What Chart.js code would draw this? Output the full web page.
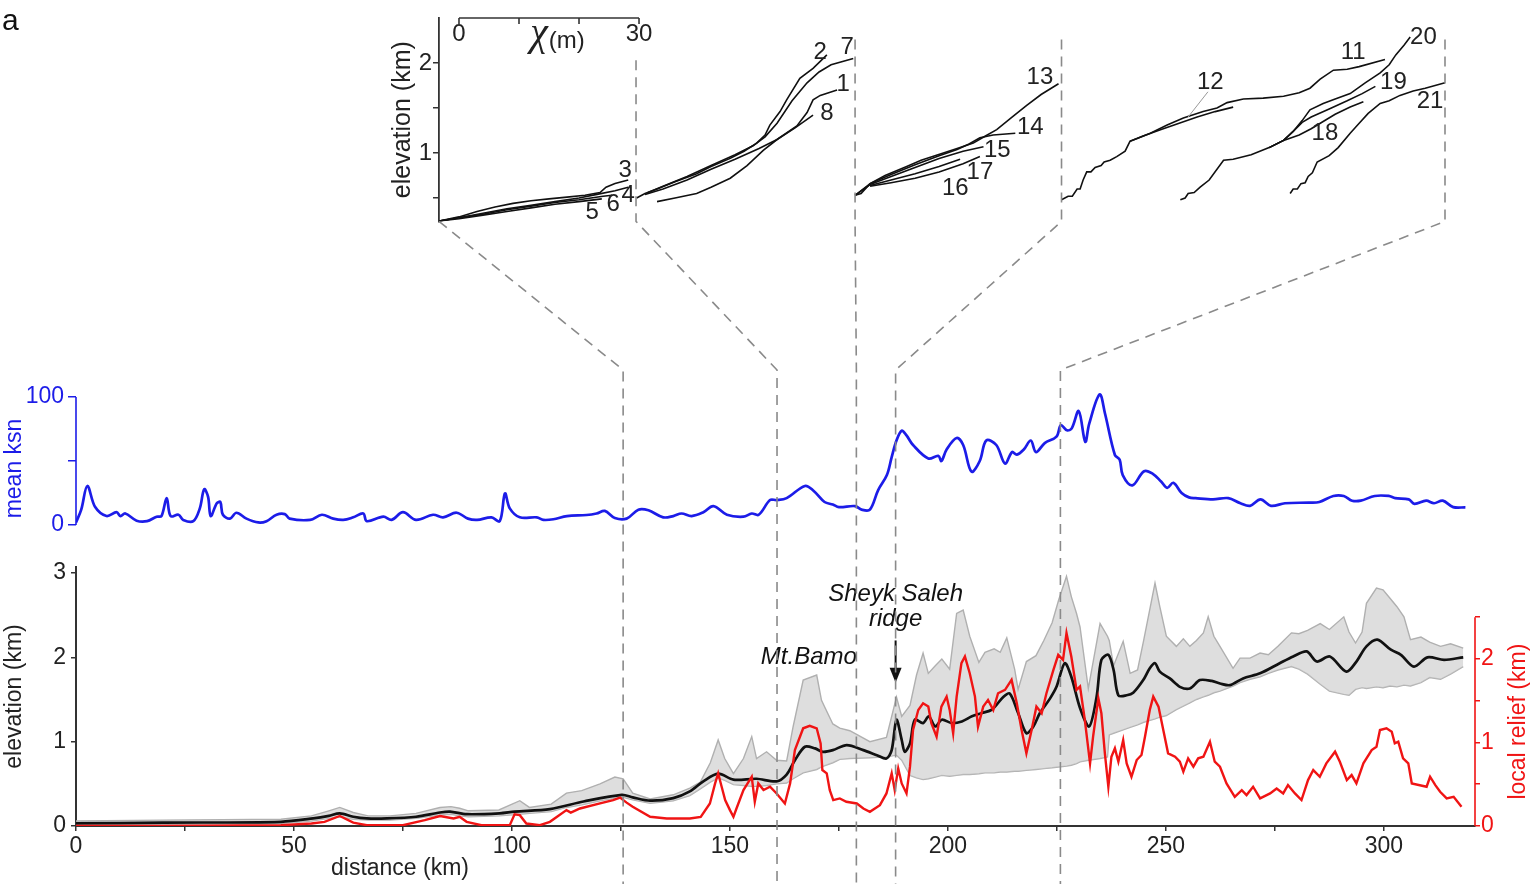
<!DOCTYPE html>
<html><head><meta charset="utf-8">
<script src="https://cdn.jsdelivr.net/npm/chart.js@4.4.1/dist/chart.umd.min.js"></script>
<style>
html,body{margin:0;padding:0;background:#fff;width:1536px;height:884px;overflow:hidden}
#wrap{position:relative;width:1536px;height:884px}
canvas{position:absolute;left:0;top:0}
</style></head><body>
<div id="wrap"><canvas id="main" width="1536" height="884"></canvas><canvas id="inset" width="1536" height="884"></canvas></div>
<script>
// ---------------- DATA ----------------
// mean ksn along the swath
const ksnKm  = [0,1.2,2.6,4.4,7,9.3,10.2,11.3,13.9,16.3,18.5,19.6,20.8,21.7,23.5,24.6,26.9,28.4,29.4,30.3,30.9,32.3,33.1,33.7,35.3,36.8,39.1,41.8,43.7,46,47.9,49,53.7,56.4,59,61.3,63.6,65.9,66.7,70.5,72.4,75,78,81.9,84.2,87.3,89.9,92,95.3,97.2,98.4,99.5,101.8,105.7,107.2,109.5,112.6,117.1,119.4,121.3,123.6,126.3,129,131.3,134.7,137,138.9,141.2,143.9,146.2,149.3,153.1,155,156.6,159.2,160.7,163,167.2,169.1,171.7,173.6,175,178.7,180.2,182.1,184,186,187.1,188.2,189.4,190.5,192,195.5,197.8,198.5,199.7,202,203.5,205.4,207.3,208.8,211.1,213.1,214.7,215.8,217.4,219.0,220.2,222.2,224.9,225.9,227.3,228.4,230.0,231.5,232.4,234.8,236.0,238.3,239.4,240.1,242.3,245.0,247.0,248.9,250.3,251.7,253.6,255.3,256.8,260.8,264.3,267.1,269.3,271.7,274.1,277.3,282.8,285.2,288.4,290.8,292.7,294.7,297.9,301.1,302.6,305.7,307.0,309.7,311.5,313.5,315.9,318.7];
const ksnVal = [2,12,30.5,14,7,10,7,9,3.4,3,6.5,7,21,7,8,4,3,13,28,22,7,17,18,8,5,9.6,5,2,3,8,8.5,5,4,8,5,4,6,9,3,6.5,4,10,4,8,6,9.6,5,4,6,3,24.7,13,6,6,4,4.5,7,7.8,9,11,5.5,5,12,11.5,6,7,9,7,10,14.8,8,6.5,9,8,19.5,19.5,21,30.5,27,18,16,14,14.8,12,12,27.3,39,53,66,73.7,70,62.5,52,54,50,59,68,62.5,41.7,50,66,62.5,48,57,55,59,66,57,64,69,78,74,75.5,89,65,79,102,87.5,54.7,51,39,31,42,40,34,29,33,25,21.6,21,20,21,17,15,20,15,17,17.5,18,22.7,22.7,19,19,22.7,22.7,21,20,16.5,19,17,19,14,13.8];

// mean elevation (km)
const elevKm = [0,20,47,54.4,58,60.5,63.6,66.7,71.3,78,
  83.5,85.8,89.6,97.2,100.6,108.7,116.4,125.2,127.7,131.7,
  137,140.8,143.9,147.3,150.8,156.1,160.7,163,164.9,167.2,
  169.5,171.3,173.6,176.8,180.6,183.7,185.9,187.1,188.2,189.4,
  190.1,191.3,192.4,194.3,195.6,197.1,198.6,200.9,203.2,205.5,
  207.8,210.1,212.7,214.2,216.1,218,219.6,221.1,223.4,224.9,
  226.8,228.3,230.3,232.4,234.1,235.2,236.8,238,239.1,241,
  242.5,244.8,246.3,247.5,248.6,250.9,253.2,255.5,257.8,260.5,
  262.4,264.7,267.7,271.6,276.1,279.2,282.3,284.6,287.6,291.4,
  293.7,296,298.5,301.6,303.9,306.9,310,313.8,318.2];
const elevMean = [0.03,0.04,0.05,0.09,0.12,0.15,0.11,0.09,0.09,0.11,
  0.16,0.17,0.14,0.15,0.17,0.20,0.29,0.37,0.34,0.30,
  0.33,0.41,0.53,0.62,0.55,0.56,0.53,0.61,0.78,0.94,
  0.92,0.88,0.90,0.96,0.90,0.84,0.80,0.90,1.26,1.02,
  0.88,0.98,1.26,1.22,1.30,1.18,1.26,1.22,1.24,1.30,
  1.34,1.38,1.53,1.57,1.34,1.10,1.18,1.34,1.51,1.65,
  1.93,1.77,1.40,1.18,1.53,1.97,2.03,1.85,1.55,1.55,
  1.58,1.73,1.87,1.93,1.83,1.75,1.65,1.63,1.73,1.72,
  1.69,1.67,1.75,1.81,1.93,2.01,2.07,1.95,2.01,1.83,
  1.95,2.13,2.21,2.09,2.03,1.89,2.00,1.97,2.00];

// min / max elevation envelope (km)
const bandKm = [0,20,47,54,58,60.5,63.6,67,72,78,
  83.5,86,88,90,97,101.8,104,109,112.5,116,
  120.2,123.6,125.5,127.7,131.7,137,140.8,143.2,145.5,147.3,
  148.8,150.8,153.1,155,156.1,158.4,160.7,163,164.5,166.8,
  169.9,171,173.6,175.2,177.5,182.1,185.9,188.2,189.4,191.3,
  192.8,194.3,195.5,197.1,198.6,200.4,202,203.5,205,207.1,
  208.5,210.6,212,213.5,215.3,216.1,218,220.2,222,223.9,
  225.4,227.2,228.3,229.5,230.3,232.2,234.9,236.6,237,238,
  240.2,241.8,243.5,244.9,247.5,248.6,250.1,252.4,254,255.5,
  257,258.6,259.7,261,262.4,265.4,267,269.3,271.6,273.5,
  275.7,278.8,280.5,282.5,285.4,287.5,290.8,292,293.5,295,
  296,298.3,299.8,301.4,303,304.6,306.1,308.5,310.5,313,
  315.3,318.2];
const bandMax = [0.06,0.07,0.08,0.12,0.18,0.22,0.16,0.12,0.12,0.15,
  0.22,0.23,0.21,0.18,0.19,0.30,0.22,0.26,0.39,0.42,
  0.50,0.58,0.56,0.39,0.32,0.37,0.45,0.52,0.75,1.02,
  0.80,0.62,0.80,1.06,0.80,0.88,0.78,0.77,1.18,1.73,
  1.79,1.49,1.21,1.16,1.13,1.00,1.05,1.53,1.30,1.43,
  1.79,2.05,1.81,1.90,1.98,1.86,2.52,2.56,2.25,1.94,
  2.06,2.10,2.06,2.23,1.86,1.62,1.95,2.02,2.20,2.41,
  2.68,2.96,2.72,2.52,2.36,1.63,2.40,2.25,2.20,1.90,
  2.19,1.81,1.85,2.20,2.88,2.60,2.25,2.13,2.22,2.13,
  2.20,2.29,2.48,2.25,2.13,1.87,1.99,1.99,2.05,2.03,
  2.13,2.29,2.28,2.32,2.40,2.33,2.48,2.30,2.17,2.30,
  2.64,2.82,2.80,2.70,2.60,2.48,2.21,2.24,2.18,2.13,
  2.16,2.11];
const bandMin = [0.01,0.02,0.03,0.06,0.09,0.11,0.08,0.07,0.07,0.09,
  0.13,0.14,0.12,0.11,0.12,0.14,0.15,0.17,0.22,0.25,
  0.30,0.33,0.34,0.31,0.27,0.30,0.36,0.44,0.52,0.57,
  0.54,0.49,0.48,0.47,0.47,0.48,0.50,0.51,0.56,0.63,
  0.67,0.70,0.75,0.79,0.80,0.81,0.82,0.84,0.78,0.60,
  0.57,0.55,0.56,0.58,0.60,0.59,0.60,0.61,0.61,0.62,
  0.63,0.63,0.64,0.64,0.65,0.65,0.66,0.67,0.68,0.69,
  0.70,0.71,0.72,0.74,0.76,0.78,0.80,0.82,1.08,1.10,
  1.14,1.17,1.20,1.23,1.27,1.29,1.31,1.38,1.42,1.46,
  1.50,1.53,1.55,1.58,1.60,1.66,1.70,1.74,1.77,1.81,
  1.85,1.89,1.86,1.80,1.68,1.60,1.56,1.55,1.62,1.64,
  1.63,1.65,1.64,1.66,1.65,1.67,1.66,1.70,1.76,1.74,
  1.80,1.89];

// local relief (km)
const reliefKm = [0,20,47,54,57,60.5,63.6,66.7,75,80,
  83.5,86.6,88,89.6,93,99.5,100.6,101.8,103.3,106.4,
  108.7,112.5,113.5,115.6,120.2,123.2,124.8,126.3,127.7,131.7,
  135.5,140.8,143.3,145.4,146.6,147.3,148.1,148.9,150.0,150.8,
  151.5,153.1,155.0,155.7,156.5,157.7,159.2,160.7,162.6,163.8,
  164.9,166.8,168.3,169.9,170.8,171.2,172.2,172.9,173.7,175.2,
  176.7,179.1,180.6,182.1,184.4,185.9,187.1,187.8,188.6,189.4,
  190.5,191.3,192.0,193.2,194.3,195.5,196.2,197.4,198.5,199.7,
  200.4,201.2,202.0,203.1,203.9,205.0,206.2,206.9,208.1,209.2,
  210.4,211.5,213.1,214.6,215.8,216.9,218.0,219.2,220.3,221.5,
  222.6,224.2,225.3,226.4,227.2,228.3,229.5,230.3,231.4,232.6,
  233.3,234.5,235.2,236.0,236.8,237.5,238.3,239.1,240.2,241.0,
  242.1,243.3,244.4,245.2,246.3,247.1,248.3,249.4,250.5,252.1,
  253.2,254.0,255.1,256.3,257.4,258.6,260.1,261.2,262.4,263.9,
  265.8,267.4,268.5,270.0,271.6,273.9,275.4,276.9,278.0,279.6,
  281.1,282.6,283.8,285.3,286.8,288.8,289.9,291.5,292.6,293.7,
  295.3,297.2,298.3,299.1,300.6,301.8,302.5,303.3,304.4,305.6,
  306.4,309.8,310.6,311.8,312.9,314.4,316.0,317.8];
const reliefVal = [0,0,0.01,0.03,0.05,0.12,0.04,0.01,0.01,0.07,
  0.12,0.09,0.11,0.05,0.01,0.01,0.14,0.13,0.03,0.01,
  0.05,0.19,0.16,0.21,0.27,0.31,0.34,0.28,0.23,0.11,
  0.09,0.09,0.11,0.27,0.51,0.63,0.47,0.31,0.19,0.11,
  0.21,0.43,0.59,0.29,0.51,0.43,0.47,0.39,0.27,0.51,
  0.91,1.17,1.20,1.17,0.99,0.67,0.63,0.43,0.31,0.33,
  0.29,0.27,0.21,0.17,0.25,0.39,0.63,0.43,0.69,0.51,
  0.39,0.71,1.15,1.39,1.47,1.43,1.23,1.07,1.43,1.55,
  1.39,1.11,1.55,1.95,2.03,1.83,1.55,1.19,1.43,1.51,
  1.39,1.59,1.63,1.75,1.47,1.15,0.87,1.15,1.43,1.35,
  1.59,1.87,2.05,1.99,2.31,2.03,1.63,1.67,1.27,0.75,
  1.07,1.53,1.35,0.87,0.47,0.83,0.93,0.77,1.03,0.75,
  0.59,0.79,0.85,1.07,1.39,1.55,1.43,1.15,0.87,0.83,
  0.77,0.65,0.81,0.71,0.81,0.83,1.01,0.77,0.71,0.51,
  0.35,0.43,0.37,0.47,0.33,0.39,0.45,0.39,0.49,0.39,
  0.31,0.55,0.67,0.59,0.75,0.89,0.77,0.55,0.61,0.51,
  0.75,0.91,0.95,1.15,1.17,1.13,0.99,1.01,0.81,0.75,
  0.51,0.47,0.59,0.49,0.41,0.33,0.35,0.23];

// tick values
const xTicks = [0,25,50,75,100,125,150,175,200,225,250,275,300];
const xLabels = [0,50,100,150,200,250,300];
const ksnTicks = [0,50,100];
const ksnLabels = [0,100];
const elevTicks = [0,0.5,1,1.5,2,2.5,3];
const elevLabels = [0,1,2,3];
const reliefTicks = [0,0.5,1,1.5,2,2.5];
const reliefLabels = [0,1,2];

// chi-plot inset: river profiles (chi in m, elevation in km)
const riverNames = ['3','4','5','6','2','7','1','8','13','14','15','16','17','11','12','20','19','18','21'];
const riverChi = [
  [-3.3,0,3,6,9,12,15,18,21,23.5,24.5,26,28.2],
  [-3.3,0,4,8,12,16,20,23,26,28.2],
  [-3.3,0,4,8,12,16,20,23.8],
  [-3.3,0,4,8,12,16,20,24,25.5],
  [29.6,31,33,36,39.6,42,45.2,47.5,49.6,51,51.8,53.5,54.6,56.8,59,61.3],
  [31.5,34,38,42,46,49,51,53,55.5,58,60,62,65.7],
  [33,36,39.6,42,45.2,48,50.7,53,56.3,58,59,60.2,63],
  [31,34,38,42,46,50,53,56,59],
  [66,67,68.5,71,74.6,77,80.2,83,85.7,87.5,89.6,92,94.6,97,99.9],
  [66,68.5,72,76,80,83,85,86.8,89,92.7],
  [66,68.5,72,76,80,84,87.4],
  [68.5,72,76,80,83.5],
  [68.5,72,76,80,84,86.8],
  [100.4,101.5,102.2,103,103.5,104,104.6,105.3,106,107,107.5,108.5,109.6,111,111.8,113,115.2,118,120.7,124,126.3,128,130.7,134,137.4,140,141.8,143.5,145.7,148,150,154.3],
  [111.8,114,117,120,123,126,129],
  [120.2,121,121.5,122.5,123.5,125,127.4,129,132,135,137.4,139,140.5,141.8,144,146,148.5,151,153.5,155,156.1,157.5,158.5],
  [135,137.4,139,140.5,142,145,148,150.5,152.7],
  [135,137.4,140,142,144,146,148.5,150.7],
  [138.5,139,139.7,140.3,141,141.5,142.2,143,145,146.5,148.5,150,151.5,153.5,155,156.8,159,161,164.3]
];
const riverElev = [
  [0.244,0.29,0.35,0.40,0.44,0.47,0.49,0.51,0.53,0.56,0.62,0.66,0.70],
  [0.244,0.28,0.33,0.38,0.42,0.46,0.50,0.54,0.58,0.62],
  [0.244,0.27,0.31,0.35,0.39,0.43,0.46,0.49],
  [0.244,0.28,0.32,0.37,0.41,0.45,0.48,0.52,0.53],
  [0.50,0.55,0.60,0.68,0.77,0.85,0.94,1.02,1.11,1.20,1.31,1.46,1.59,1.83,1.94,2.09],
  [0.56,0.63,0.74,0.86,0.98,1.08,1.18,1.33,1.58,1.78,1.90,1.98,2.05],
  [0.46,0.50,0.55,0.62,0.72,0.86,1.03,1.15,1.30,1.45,1.59,1.64,1.70],
  [0.54,0.60,0.70,0.82,0.93,1.05,1.15,1.28,1.42],
  [0.53,0.55,0.66,0.75,0.85,0.92,0.99,1.05,1.11,1.18,1.26,1.39,1.53,1.65,1.77],
  [0.53,0.66,0.76,0.87,0.97,1.04,1.10,1.17,1.20,1.22],
  [0.53,0.65,0.74,0.84,0.94,1.02,1.07],
  [0.64,0.70,0.77,0.85,0.93],
  [0.63,0.67,0.72,0.79,0.88,0.96],
  [0.48,0.52,0.52,0.60,0.60,0.70,0.79,0.79,0.84,0.86,0.90,0.92,0.96,1.02,1.13,1.16,1.22,1.31,1.39,1.46,1.50,1.56,1.60,1.61,1.63,1.67,1.72,1.82,1.92,1.93,1.96,2.04],
  [1.13,1.19,1.26,1.33,1.40,1.46,1.51],
  [0.48,0.50,0.55,0.56,0.62,0.70,0.92,0.93,0.98,1.06,1.14,1.24,1.36,1.48,1.55,1.60,1.66,1.78,1.89,1.98,2.09,2.20,2.29],
  [1.06,1.14,1.24,1.34,1.40,1.49,1.58,1.66,1.74],
  [1.06,1.14,1.20,1.27,1.35,1.43,1.51,1.57],
  [0.55,0.60,0.60,0.66,0.67,0.74,0.78,0.90,0.97,1.06,1.22,1.33,1.44,1.55,1.58,1.64,1.69,1.72,1.78]
];
const labelChi  = [27.7,28.2,22.2,25.7,60.2,64.7,64.0,61.3,96.8,95.2,89.7,82.7,86.8,149,125.2,160.7,155.7,144.3,161.8];
const labelElev = [0.81,0.53,0.34,0.43,2.12,2.17,1.76,1.44,1.84,1.28,1.03,0.61,0.79,2.12,1.79,2.29,1.78,1.22,1.57];
const insetYTicks = [0.5,1,1.5,2];
const insetYLabels = [1,2];
const chiBarTicks = [0,10,20,30];
const chiBarLabels = [0,30];

// links between the inset groups and the distance profile
const linkChi = [-3.33,29.5,66,100.4,164.3];
const linkTopElev = [null,2.03,2.26,2.26,2.26];
const linkKm = [125.5,160.8,179,188,225.8];

// ---------------- STYLE ----------------
const FONT = "'Liberation Sans', Arial, sans-serif";
const BLUE = '#1c1ce8';
const RED = '#f01414';
const INK = '#222';
Chart.defaults.font.family = FONT;
Chart.defaults.animation = false;
const pts = (xs, ys) => xs.map((v, i) => ({x: v, y: ys[i]}));
const fixTicks = vals => s => { s.ticks = vals.map(v => ({value: v})); };

const mainDecor = {
  id: 'mainDecor',
  afterDraw(chart) {
    const {ctx, chartArea, scales: {x, yKsn, yElev, yRel}} = chart;
    ctx.save();
    ctx.lineWidth = 1.6;
    ctx.strokeStyle = BLUE;
    ctx.beginPath();
    ctx.moveTo(yKsn.right, yKsn.getPixelForValue(0));
    ctx.lineTo(yKsn.right, yKsn.getPixelForValue(100));
    ctx.stroke();
    ctx.strokeStyle = RED;
    ctx.beginPath();
    ctx.moveTo(yRel.left, yRel.getPixelForValue(0));
    ctx.lineTo(yRel.left, yRel.getPixelForValue(2.5));
    ctx.stroke();
    // right axis title
    ctx.save();
    ctx.translate(yRel.right - 17, (yRel.getPixelForValue(0) + yRel.getPixelForValue(2.5)) / 2);
    ctx.rotate(-Math.PI / 2);
    ctx.fillStyle = RED; ctx.font = `23px ${FONT}`;
    ctx.textAlign = 'center'; ctx.textBaseline = 'middle';
    ctx.fillText('local relief (km)', 0, 0);
    ctx.restore();
    // x title
    ctx.fillStyle = INK; ctx.font = `23px ${FONT}`;
    ctx.textAlign = 'center'; ctx.textBaseline = 'middle';
    ctx.fillText('distance (km)', chartArea.left + 324, x.bottom - 15);
    // annotations
    ctx.font = `italic 24px ${FONT}`;
    ctx.fillStyle = '#111';
    ctx.fillText('Mt.Bamo', x.getPixelForValue(168.1), yElev.getPixelForValue(2.0));
    ctx.fillText('Sheyk Saleh', x.getPixelForValue(188), yElev.getPixelForValue(2.75));
    ctx.fillText('ridge', x.getPixelForValue(188), yElev.getPixelForValue(2.45));
    const ax = x.getPixelForValue(188);
    const a0 = yElev.getPixelForValue(2.2), a1 = yElev.getPixelForValue(1.7);
    ctx.strokeStyle = '#111'; ctx.lineWidth = 2;
    ctx.beginPath(); ctx.moveTo(ax, a0); ctx.lineTo(ax, a1 - 8); ctx.stroke();
    ctx.beginPath(); ctx.moveTo(ax - 6, a1 - 15); ctx.lineTo(ax + 6, a1 - 15); ctx.lineTo(ax, a1); ctx.closePath(); ctx.fill();
    // panel letter
    ctx.font = `30px ${FONT}`; ctx.fillStyle = '#111';
    ctx.textAlign = 'left';
    ctx.fillText('a', 2, 22);
    ctx.restore();
  }
};

const mainChart = new Chart(document.getElementById('main'), {
  type: 'line',
  data: {
    datasets: [
      {label: 'local relief', data: pts(reliefKm, reliefVal), yAxisID: 'yRel', borderColor: RED, borderWidth: 2.4, pointRadius: 0, order: 1},
      {label: 'mean elevation', data: pts(elevKm, elevMean), yAxisID: 'yElev', borderColor: '#111', borderWidth: 2.7, pointRadius: 0, order: 2, tension: 0.3},
      {label: 'max elevation', data: pts(bandKm, bandMax), yAxisID: 'yElev', borderColor: '#b0b0b0', borderWidth: 1.4, pointRadius: 0, fill: '+1', backgroundColor: 'rgba(200,200,200,0.6)', order: 4},
      {label: 'min elevation', data: pts(bandKm, bandMin), yAxisID: 'yElev', borderColor: '#b0b0b0', borderWidth: 1.4, pointRadius: 0, fill: false, order: 5},
      {label: 'mean ksn', data: pts(ksnKm, ksnVal), yAxisID: 'yKsn', borderColor: BLUE, borderWidth: 2.7, pointRadius: 0, order: 3, tension: 0.35}
    ]
  },
  options: {
    responsive: false,
    devicePixelRatio: 1,
    events: [],
    layout: {padding: {top: 370, left: 0, right: 0, bottom: 0}},
    plugins: {legend: {display: false}, tooltip: {enabled: false}},
    scales: {
      x: {
        type: 'linear', position: 'bottom', min: 0, max: 320.9,
        afterFit: s => { s.height = 58; },
        afterBuildTicks: fixTicks(xTicks),
        ticks: {autoSkip: false, maxRotation: 0, padding: 2, color: INK, font: {size: 23},
                callback: v => xLabels.includes(v) ? String(v) : ''},
        grid: {drawOnChartArea: false, tickLength: 5, color: '#333', lineWidth: 1.5},
        border: {display: true, color: '#333', width: 2}
      },
      yElev: {
        type: 'linear', position: 'left', stack: 'left', stackWeight: 259, min: 0, max: 3.071,
        afterFit: s => { s.width = 76; },
        afterBuildTicks: fixTicks(elevTicks),
        ticks: {color: INK, font: {size: 23}, padding: 5, callback: v => elevLabels.includes(v) ? String(v) : ''},
        grid: {drawOnChartArea: false, tickLength: 5, color: '#333', lineWidth: 1.5},
        border: {display: true, color: '#333', width: 2},
        title: {display: true, text: 'elevation (km)', color: INK, font: {size: 23}, padding: {top: 1, bottom: 0}}
      },
      yKsn: {
        type: 'linear', position: 'left', stack: 'left', stackWeight: 197, min: -32.8, max: 121.1,
        afterFit: s => { s.width = 76; },
        afterBuildTicks: fixTicks(ksnTicks),
        ticks: {color: BLUE, font: {size: 23}, padding: 4, callback: v => ksnLabels.includes(v) ? String(v) : ''},
        grid: {drawOnChartArea: false, tickLength: 8, color: BLUE, lineWidth: 1.5},
        border: {display: false},
        title: {display: true, text: 'mean ksn', color: BLUE, font: {size: 23}, padding: {top: 1, bottom: 0}}
      },
      yRel: {
        type: 'linear', position: 'right', min: 0, max: 5.461,
        afterFit: s => { s.width = 61; },
        afterBuildTicks: fixTicks(reliefTicks),
        ticks: {color: RED, font: {size: 23}, padding: 1, callback: v => reliefLabels.includes(v) ? String(v) : ''},
        grid: {drawOnChartArea: false, tickLength: 5, color: RED, lineWidth: 1.5},
        border: {display: false}
      }
    }
  },
  plugins: [mainDecor]
});

const insetDecor = {
  id: 'insetDecor',
  afterDraw(chart) {
    const {ctx, chartArea, scales: {x, y}} = chart;
    ctx.save();
    // chi scale bar
    const yb = chartArea.top;
    ctx.strokeStyle = '#333'; ctx.lineWidth = 1.6;
    ctx.beginPath();
    ctx.moveTo(x.getPixelForValue(chiBarTicks[0]), yb);
    ctx.lineTo(x.getPixelForValue(chiBarTicks[chiBarTicks.length - 1]), yb);
    ctx.stroke();
    chiBarTicks.forEach(v => {
      const px = x.getPixelForValue(v);
      ctx.beginPath(); ctx.moveTo(px, yb); ctx.lineTo(px, yb + 6); ctx.stroke();
    });
    ctx.fillStyle = INK; ctx.font = `24px ${FONT}`;
    ctx.textAlign = 'center'; ctx.textBaseline = 'middle';
    chiBarLabels.forEach(v => ctx.fillText(String(v), x.getPixelForValue(v), yb + 16));
    ctx.font = `italic 40px 'Liberation Serif', serif`;
    ctx.textAlign = 'right';
    ctx.fillText('χ', x.getPixelForValue(14.8), yb + 16);
    ctx.font = `24px ${FONT}`;
    ctx.textAlign = 'left';
    ctx.fillText('(m)', x.getPixelForValue(14.8) + 1, yb + 23);
    // river labels
    ctx.textAlign = 'center';
    riverNames.forEach((n, i) => ctx.fillText(n, x.getPixelForValue(labelChi[i]), y.getPixelForValue(labelElev[i])));
    // leader for 12
    ctx.strokeStyle = '#999'; ctx.lineWidth = 1;
    ctx.beginPath();
    ctx.moveTo(x.getPixelForValue(121.5), y.getPixelForValue(1.40));
    ctx.lineTo(x.getPixelForValue(124.8), y.getPixelForValue(1.68));
    ctx.stroke();
    // dashed links
    const mx = mainChart.scales.x;
    const mainTop = mainChart.chartArea.top;
    const bottom = chartArea.bottom;
    ctx.strokeStyle = '#8a8a8a'; ctx.lineWidth = 1.6; ctx.setLineDash([10, 7]);
    linkChi.forEach((c, i) => {
      const xi = x.getPixelForValue(c);
      const xm = mx.getPixelForValue(linkKm[i]);
      ctx.beginPath();
      if (linkTopElev[i] !== null) {
        ctx.moveTo(xi, y.getPixelForValue(linkTopElev[i]));
        ctx.lineTo(xi, bottom);
      } else {
        ctx.moveTo(xi, bottom);
      }
      ctx.lineTo(xm, mainTop);
      ctx.lineTo(xm, mainChart.height);
      ctx.stroke();
    });
    ctx.restore();
  }
};

new Chart(document.getElementById('inset'), {
  type: 'line',
  data: {
    datasets: riverNames.map((n, i) => ({
      label: 'river ' + n, data: pts(riverChi[i], riverElev[i]),
      borderColor: '#111', borderWidth: 1.6, pointRadius: 0, fill: false
    }))
  },
  options: {
    responsive: false,
    devicePixelRatio: 1,
    events: [],
    layout: {padding: {left: 379, top: 18, right: 76, bottom: 662.6}},
    plugins: {legend: {display: false}, tooltip: {enabled: false}},
    scales: {
      x: {type: 'linear', min: -3.33, max: 166.8, display: false},
      y: {
        type: 'linear', position: 'left', min: 0.24, max: 2.5,
        afterFit: s => { s.width = 60; },
        afterBuildTicks: fixTicks(insetYTicks),
        ticks: {color: INK, font: {size: 24}, padding: 1, callback: v => insetYLabels.includes(v) ? String(v) : ''},
        grid: {drawOnChartArea: false, tickLength: 6, color: '#333', lineWidth: 1.5},
        border: {display: true, color: '#333', width: 1.8},
        title: {display: true, text: 'elevation (km)', color: INK, font: {size: 25}, padding: {top: 9, bottom: 0}}
      }
    }
  },
  plugins: [insetDecor]
});
</script>
</body></html>
